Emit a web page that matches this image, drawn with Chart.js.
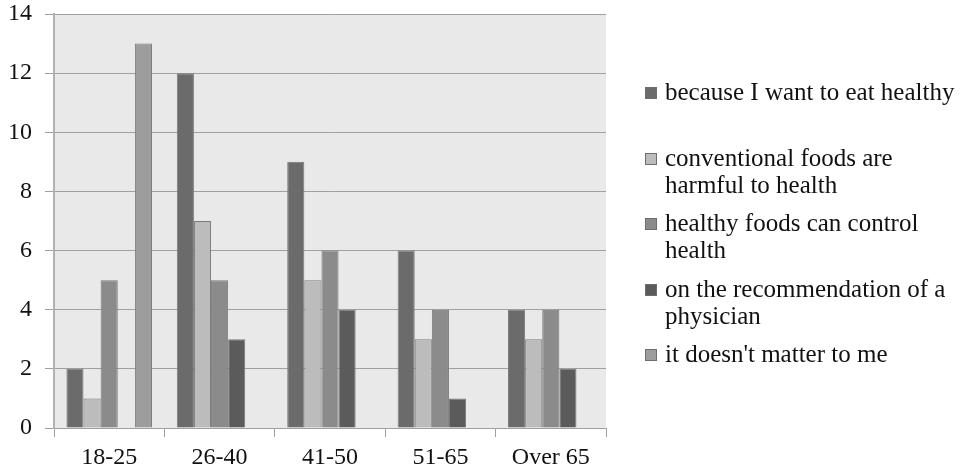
<!DOCTYPE html>
<html>
<head>
<meta charset="utf-8">
<script src="https://cdn.jsdelivr.net/npm/chart.js@4/dist/chart.umd.min.js"></script>
<style>
  html, body { margin: 0; padding: 0; background: #ffffff; }
  #wrap { position: relative; width: 962px; height: 471px; overflow: hidden; }
  #chart { position: absolute; left: 0; top: 0; }
  #legend {
    position: absolute; left: 645px; top: 78px;
    font-family: "Liberation Serif", "Times New Roman", serif;
    font-size: 25px; line-height: 27px; color: #111;
  }
  .item { display: flex; height: 65.5px; }
  .box { flex: none; width: 10px; height: 10px; margin-top: 9px; margin-right: 8px; border: 1px solid #6e6e6e; }
  .text { width: 300px; }
</style>
</head>
<body>
<div id="wrap">
  <canvas id="chart" width="962" height="471"></canvas>
  <div id="legend"></div>
</div>
<script>
// Age groups on the category axis
const ageGroups = ['18-25', '26-40', '41-50', '51-65', 'Over 65'];

// Reasons given, one series each
const reasonLabels = [
  'because I want to eat healthy',
  'conventional foods are harmful to health',
  'healthy foods can control health',
  'on the recommendation of a physician',
  "it doesn't matter to me"
];

// Number of respondents per reason, by age group
const wantHealthy   = [2, 12, 9, 6, 4];
const foodsHarmful  = [1, 7, 5, 3, 3];
const controlHealth = [5, 5, 6, 4, 4];
const physicianRec  = [0, 3, 4, 1, 2];
const doesntMatter  = [13, 0, 0, 0, 0];

// Value axis ticks
const yTicks = [0, 2, 4, 6, 8, 10, 12, 14];

const seriesValues = [wantHealthy, foodsHarmful, controlHealth, physicianRec, doesntMatter];
const seriesColors = ['#6b6b6b', '#bcbcbc', '#8b8b8b', '#5b5b5b', '#9d9d9d'];

const datasets = seriesValues.map((vals, i) => ({
  label: reasonLabels[i],
  data: vals,
  backgroundColor: seriesColors[i],
  borderColor: '#7a7a7a',
  borderWidth: 1,
  categoryPercentage: 0.775,
  barPercentage: 1.0
}));

// Light grey fill behind the plotting area
const plotBackground = {
  id: 'plotBackground',
  beforeDraw(chart) {
    const { ctx, chartArea: a } = chart;
    ctx.save();
    ctx.fillStyle = '#e9e9e9';
    ctx.fillRect(a.left, a.top, a.right - a.left, a.bottom - a.top);
    ctx.restore();
  }
};

const tickFont = { family: '"Liberation Serif", "Times New Roman", serif', size: 24 };

const chart = new Chart(document.getElementById('chart'), {
  type: 'bar',
  data: { labels: ageGroups, datasets },
  plugins: [plotBackground],
  options: {
    responsive: false,
    devicePixelRatio: 1,
    animation: false,
    layout: { padding: { left: 0, right: 356, top: 0, bottom: 0 } },
    plugins: {
      legend: { display: false },
      tooltip: { enabled: false }
    },
    scales: {
      x: {
        offset: true,
        afterFit(scale) { scale.height = 43; },
        grid: {
          offset: true,
          drawOnChartArea: false,
          drawTicks: true,
          tickLength: 9,
          color: '#a0a0a0'
        },
        border: { display: true, color: '#a0a0a0', width: 1 },
        ticks: { color: '#111', font: tickFont, padding: 6 }
      },
      y: {
        min: 0,
        max: 14,
        afterBuildTicks(scale) {
          scale.ticks = yTicks.map(v => ({ value: v }));
        },
        afterFit(scale) {
          scale.width = 54;
          scale.paddingTop = 14;
          scale.paddingBottom = 0;
        },
        grid: {
          color: '#a0a0a0',
          lineWidth: 1,
          drawTicks: true,
          tickLength: 9
        },
        border: { display: true, color: '#b2b2b2', width: 2 },
        ticks: { color: '#111', font: tickFont, padding: 13 }
      }
    }
  }
});

// Legend built from the chart's own datasets
const legendEl = document.getElementById('legend');
chart.data.datasets.forEach(ds => {
  const item = document.createElement('div');
  item.className = 'item';
  const box = document.createElement('span');
  box.className = 'box';
  box.style.background = ds.backgroundColor;
  const text = document.createElement('div');
  text.className = 'text';
  text.textContent = ds.label;
  item.appendChild(box);
  item.appendChild(text);
  legendEl.appendChild(item);
});
</script>
</body>
</html>
